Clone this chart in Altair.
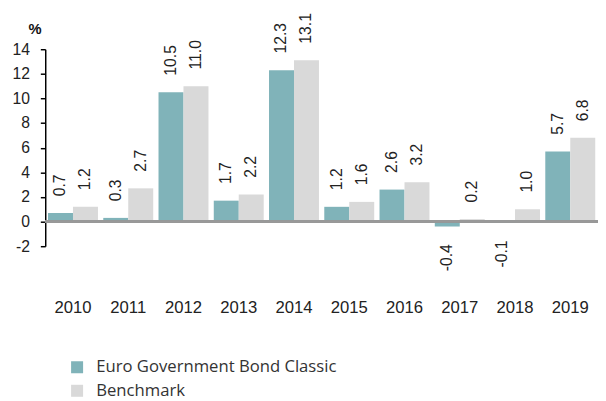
import altair as alt
import pandas as pd

years = [str(y) for y in range(2010, 2020)]
fund = [0.7, 0.3, 10.5, 1.7, 12.3, 1.2, 2.6, -0.4, -0.1, 5.7]
bench = [1.2, 2.7, 11.0, 2.2, 13.1, 1.6, 3.2, 0.2, 1.0, 6.8]
series_names = ["Euro Government Bond Classic", "Benchmark"]
colors = ["#80b3b9", "#d9d9d9"]
y_ticks = [-2, 0, 2, 4, 6, 8, 10, 12, 14]

rows = []
for i, yr in enumerate(years):
    for name, vals in zip(series_names, [fund, bench]):
        v = vals[i]
        rows.append({"year": yr, "series": name, "value": v, "label": f"{v:.1f}"})
df = pd.DataFrame(rows)

AX_FONT = "Liberation Sans"

base = alt.Chart(df).encode(
    x=alt.X(
        "year:N",
        sort=years,
        scale=alt.Scale(paddingInner=0.096, paddingOuter=0.05),
        axis=alt.Axis(
            title=None, labelAngle=0, domain=False, ticks=False,
            labelPadding=55, labelFontSize=17, labelFont=AX_FONT,
            labelColor="#222222", labelFontWeight="normal",
        ),
    ),
    xOffset=alt.XOffset("series:N", sort=series_names),
    y=alt.Y(
        "value:Q",
        scale=alt.Scale(domain=[-2, 14], nice=False, zero=False),
        axis=alt.Axis(
            values=y_ticks, tickCount=20, grid=False,
            domainColor="#000000", domainWidth=1.5,
            tickColor="#000000", tickWidth=1.5, tickSize=5, labelPadding=11,
            labelFontSize=16, labelFont=AX_FONT, labelColor="#222222",
            labelExpr="'' + datum.value", labelOverlap=False,
            title="%", titleAngle=0, titleX=-11, titleY=-13,
            titleAlign="center", titleBaseline="bottom",
            titleFontWeight="bold", titleFontSize=15, titleFont=AX_FONT,
            titleColor="#111111",
        ),
    ),
)

bars = base.mark_bar().encode(
    color=alt.Color(
        "series:N",
        sort=series_names,
        scale=alt.Scale(domain=series_names, range=colors),
        legend=alt.Legend(
            title=None, orient="none", legendX=24, legendY=316,
            direction="vertical", symbolType="square", symbolSize=150,
            symbolStrokeWidth=0, labelFontSize=17, labelFont="Open Sans",
            labelColor="#333333", rowPadding=6, labelOffset=11,
            labelLimit=0,
        ),
    )
)

zero = alt.Chart(df).mark_rule(color="#999999", strokeWidth=1.5).encode(
    y=alt.datum(0)
)

pos_labels = base.transform_filter("datum.value >= 0").mark_text(
    angle=270, align="left", baseline="middle", dx=17,
    fontSize=16, font=AX_FONT, color="#222222",
).encode(text="label:N")

neg_labels = base.transform_filter("datum.value < 0").mark_text(
    angle=270, align="right", baseline="middle", dx=-18,
    fontSize=16, font=AX_FONT, color="#222222",
).encode(text="label:N")

chart = (
    alt.layer(bars, zero, pos_labels, neg_labels)
    .properties(
        width=564,
        height=201,
        autosize="none",
        padding={"left": 38, "top": 38, "right": 0, "bottom": 160},
    )
    .configure_view(stroke=None)
)

chart.save("out.html", embed_options={"renderer": "svg", "actions": False})
